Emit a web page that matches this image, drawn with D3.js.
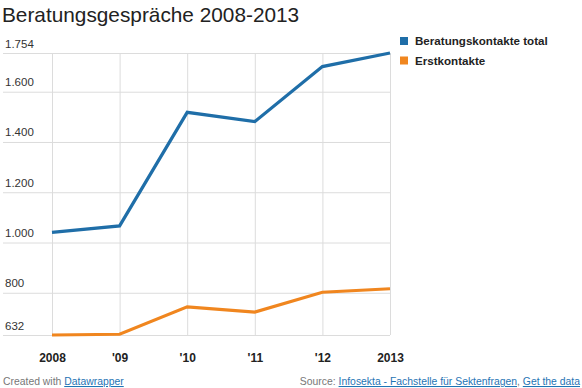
<!DOCTYPE html>
<html><head><meta charset="utf-8">
<script src="https://cdn.jsdelivr.net/npm/d3@7"></script>
<style>
body{margin:0;background:#fff;font-family:"Liberation Sans",Arial,sans-serif;}
svg{display:block}
</style></head>
<body>
<svg id="c" width="582" height="388"></svg>
<script>
const years = ["2008","'09","'10","'11","'12","2013"];
const seriesNames = ["Beratungskontakte total","Erstkontakte"];
const totalValues = [1040, 1066, 1518, 1481, 1700, 1754];
const firstValues = [632, 635, 744, 723, 802, 816];
const yTicks = [632, 800, 1000, 1200, 1400, 1600, 1754];
const colors = ["#1f6ea8", "#f0861f"];

const svg = d3.select("#c");
const fmt = d3.formatLocale({decimal:",", thousands:".", grouping:[3], currency:["","€"]}).format(",d");

svg.append("text").attr("x",2).attr("y",22).attr("font-size",20.8).attr("fill","#222")
  .text("Beratungsgespräche 2008-2013");

const x = d3.scalePoint().domain(years).range([52, 390]);
const y = d3.scaleLinear().domain([632, 1754]).range([335, 53]);

// horizontal grid + labels
const yAxis = svg.append("g").attr("transform","translate(390,0)")
  .call(d3.axisLeft(y).tickValues(yTicks).tickSize(387).tickFormat(fmt));
yAxis.select(".domain").remove();
yAxis.selectAll(".tick line").attr("stroke","#dcdcdc");
yAxis.selectAll(".tick text").attr("x",-385).attr("dy",-6).attr("text-anchor","start")
  .attr("font-size",11.5).attr("font-family","Liberation Sans, Arial").attr("fill","#333");

// vertical grid + x labels
const xAxis = svg.append("g").attr("transform","translate(0,335)")
  .call(d3.axisBottom(x).tickSize(-282).tickPadding(0));
xAxis.select(".domain").remove();
xAxis.selectAll(".tick line").attr("stroke","#dcdcdc");
xAxis.selectAll(".tick text").attr("dy",0).attr("y",27).attr("font-size",12).attr("font-weight","bold")
  .attr("font-family","Liberation Sans, Arial").attr("fill","#222");

const line = d3.line().x((d,i)=>x(years[i])).y(d=>y(d));
[firstValues,totalValues].forEach((vals,k)=>{
  svg.append("path").attr("d",line(vals)).attr("fill","none")
    .attr("stroke", colors[k===0?1:0]).attr("stroke-width",3.2).attr("stroke-linejoin","miter");
});

// legend
const lg = svg.append("g");
seriesNames.forEach((n,i)=>{
  lg.append("rect").attr("x",400).attr("y",37+i*19.5).attr("width",8).attr("height",8).attr("fill",colors[i]);
  lg.append("text").attr("x",415).attr("y",45+i*19.5).attr("font-size",11.6).attr("font-weight","bold")
    .attr("fill","#222").text(n);
});

// footer
const f1 = svg.append("text").attr("x",3).attr("y",385).attr("font-size",10.4).attr("fill","#777");
f1.append("tspan").text("Created with ");
f1.append("tspan").attr("fill","#1f74b4").attr("text-decoration","underline").text("Datawrapper");
const f2 = svg.append("text").attr("x",580).attr("y",385).attr("font-size",10.4).attr("fill","#777").attr("text-anchor","end");
f2.append("tspan").text("Source: ");
f2.append("tspan").attr("fill","#1f74b4").attr("text-decoration","underline").text("Infosekta - Fachstelle für Sektenfragen");
f2.append("tspan").text(", ");
f2.append("tspan").attr("fill","#1f74b4").attr("text-decoration","underline").text("Get the data");
</script>
</body></html>
